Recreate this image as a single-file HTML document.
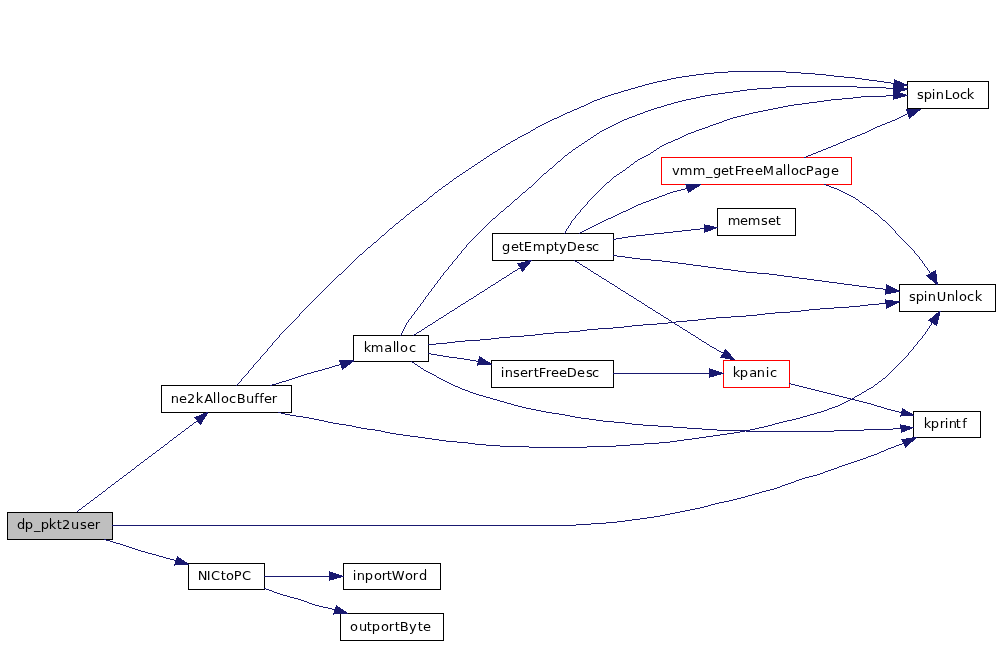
<!DOCTYPE html>
<html><head><meta charset="utf-8"><title>dp_pkt2user call graph</title>
<style>
html,body{margin:0;padding:0;background:#fff}
svg{display:block}
text{font-family:"DejaVu Sans","Liberation Sans",sans-serif;font-size:13px;fill:#000;text-anchor:start}
.e{fill:#191970;stroke:none}
</style></head><body>
<svg width="1000" height="645" viewBox="0 0 1000 645">
<rect width="1000" height="645" fill="#fff"/>
<g shape-rendering="crispEdges">
<rect x="7.5" y="512.5" width="105" height="27" fill="#bfbfbf" stroke="#000"/>
<rect x="161.5" y="385.5" width="130" height="27" fill="#fff" stroke="#000"/>
<rect x="188.5" y="563.5" width="76" height="26" fill="#fff" stroke="#000"/>
<rect x="343.5" y="563.5" width="97" height="26" fill="#fff" stroke="#000"/>
<rect x="340.5" y="613.5" width="103" height="27" fill="#fff" stroke="#000"/>
<rect x="353.5" y="335.5" width="75" height="26" fill="#fff" stroke="#000"/>
<rect x="492.5" y="233.5" width="121" height="27" fill="#fff" stroke="#000"/>
<rect x="491.5" y="360.5" width="122" height="27" fill="#fff" stroke="#000"/>
<rect x="661.5" y="157.5" width="190" height="27" fill="#fff" stroke="#f00"/>
<rect x="717.5" y="208.5" width="78" height="27" fill="#fff" stroke="#000"/>
<rect x="723.5" y="360.5" width="66" height="27" fill="#fff" stroke="#f00"/>
<rect x="907.5" y="81.5" width="81" height="27" fill="#fff" stroke="#000"/>
<rect x="899.5" y="284.5" width="96" height="27" fill="#fff" stroke="#000"/>
<rect x="913.5" y="411.5" width="67" height="26" fill="#fff" stroke="#000"/>
</g>
<g shape-rendering="crispEdges">
<path class="e" d="M728 71h58v1h-58zM714 72h14v1h-14zM786 72h15v1h-15zM704 73h10v1h-10zM801 73h14v1h-14zM696 74h8v1h-8zM815 74h11v1h-11zM689 75h7v1h-7zM826 75h8v1h-8zM682 76h7v1h-7zM834 76h10v1h-10zM676 77h6v1h-6zM844 77h11v1h-11zM671 78h5v1h-5zM855 78h7v1h-7zM667 79h4v1h-4zM862 79h7v1h-7zM894 79h1v1h-1zM662 80h5v1h-5zM869 80h8v1h-8zM894 80h3v1h-3zM657 81h5v1h-5zM877 81h7v1h-7zM894 81h6v1h-6zM653 82h4v1h-4zM884 82h7v1h-7zM894 82h8v1h-8zM649 83h4v1h-4zM891 83h13v1h-13zM645 84h4v1h-4zM893 84h14v1h-14zM642 85h3v1h-3zM893 85h15v1h-15zM638 86h4v1h-4zM786 86h71v1h-71zM893 86h11v2h-11zM635 87h3v1h-3zM772 87h14v1h-14zM857 87h29v1h-29zM631 88h4v1h-4zM757 88h15v1h-15zM886 88h21v1h-21zM628 89h3v1h-3zM747 89h10v1h-10zM893 89h15v1h-15zM624 90h4v1h-4zM740 90h7v1h-7zM893 90h12v1h-12zM621 91h3v1h-3zM733 91h7v1h-7zM893 91h8v1h-8zM618 92h3v1h-3zM725 92h8v1h-8zM893 92h7v1h-7zM614 93h4v1h-4zM718 93h7v1h-7zM893 93h10v1h-10zM611 94h3v1h-3zM711 94h7v1h-7zM893 94h13v1h-13zM608 95h3v1h-3zM705 95h6v1h-6zM886 95h22v1h-22zM605 96h3v1h-3zM700 96h5v1h-5zM861 96h25v1h-25zM893 96h12v1h-12zM602 97h3v1h-3zM696 97h4v1h-4zM853 97h8v1h-8zM893 97h8v1h-8zM600 98h2v1h-2zM691 98h5v1h-5zM842 98h11v1h-11zM893 98h5v1h-5zM597 99h3v1h-3zM686 99h5v1h-5zM831 99h11v1h-11zM893 99h1v1h-1zM594 100h3v1h-3zM682 100h4v1h-4zM824 100h7v1h-7zM592 101h2v1h-2zM678 101h4v1h-4zM817 101h7v1h-7zM590 102h2v1h-2zM674 102h4v1h-4zM809 102h8v1h-8zM588 103h2v1h-2zM671 103h3v1h-3zM802 103h7v1h-7zM586 104h2v1h-2zM667 104h4v1h-4zM794 104h8v1h-8zM584 105h2v1h-2zM664 105h3v1h-3zM788 105h6v1h-6zM581 106h3v1h-3zM661 106h3v1h-3zM783 106h5v1h-5zM579 107h2v1h-2zM657 107h4v1h-4zM778 107h5v1h-5zM577 108h2v1h-2zM654 108h3v1h-3zM773 108h5v1h-5zM574 109h3v1h-3zM651 109h3v1h-3zM768 109h5v1h-5zM906 109h15v1h-15zM572 110h2v1h-2zM648 110h3v1h-3zM763 110h5v1h-5zM906 110h14v1h-14zM570 111h2v1h-2zM645 111h3v1h-3zM758 111h5v1h-5zM907 111h11v1h-11zM567 112h3v1h-3zM643 112h2v1h-2zM753 112h5v1h-5zM907 112h10v1h-10zM565 113h2v1h-2zM640 113h3v1h-3zM749 113h4v1h-4zM907 113h9v1h-9zM563 114h2v1h-2zM637 114h3v1h-3zM745 114h4v1h-4zM905 114h2v1h-2zM908 114h7v1h-7zM561 115h2v1h-2zM635 115h2v1h-2zM741 115h4v1h-4zM903 115h2v1h-2zM908 115h6v1h-6zM559 116h2v1h-2zM632 116h3v1h-3zM737 116h4v1h-4zM901 116h2v1h-2zM908 116h4v1h-4zM557 117h2v1h-2zM629 117h3v1h-3zM733 117h4v1h-4zM899 117h2v1h-2zM909 117h2v1h-2zM554 118h3v1h-3zM627 118h2v1h-2zM730 118h3v1h-3zM897 118h2v1h-2zM909 118h1v1h-1zM552 119h2v1h-2zM624 119h3v1h-3zM727 119h3v1h-3zM895 119h2v1h-2zM550 120h2v1h-2zM622 120h2v1h-2zM724 120h3v1h-3zM892 120h3v1h-3zM548 121h2v1h-2zM620 121h2v1h-2zM722 121h2v1h-2zM890 121h2v1h-2zM546 122h2v1h-2zM618 122h2v1h-2zM719 122h3v1h-3zM887 122h3v1h-3zM544 123h2v1h-2zM616 123h2v1h-2zM716 123h3v1h-3zM885 123h2v1h-2zM542 124h2v1h-2zM614 124h2v1h-2zM713 124h3v1h-3zM882 124h3v1h-3zM540 125h2v1h-2zM612 125h2v1h-2zM710 125h3v1h-3zM880 125h2v1h-2zM538 126h2v1h-2zM610 126h2v1h-2zM708 126h2v1h-2zM877 126h3v1h-3zM536 127h2v1h-2zM608 127h2v1h-2zM705 127h3v1h-3zM875 127h2v1h-2zM535 128h1v1h-1zM606 128h2v1h-2zM702 128h3v1h-3zM873 128h2v1h-2zM533 129h2v1h-2zM604 129h2v1h-2zM699 129h3v1h-3zM871 129h2v1h-2zM531 130h2v1h-2zM602 130h2v1h-2zM696 130h3v1h-3zM869 130h2v1h-2zM530 131h1v1h-1zM600 131h2v1h-2zM694 131h2v1h-2zM867 131h2v1h-2zM528 132h2v1h-2zM599 132h1v1h-1zM691 132h3v1h-3zM865 132h2v1h-2zM526 133h2v1h-2zM597 133h2v1h-2zM688 133h3v1h-3zM862 133h3v1h-3zM524 134h2v1h-2zM596 134h1v1h-1zM686 134h2v1h-2zM860 134h2v1h-2zM522 135h2v1h-2zM594 135h2v1h-2zM684 135h2v1h-2zM857 135h3v1h-3zM520 136h2v1h-2zM593 136h1v1h-1zM682 136h2v1h-2zM855 136h2v1h-2zM518 137h2v1h-2zM591 137h2v1h-2zM680 137h2v1h-2zM852 137h3v1h-3zM517 138h1v1h-1zM590 138h1v1h-1zM678 138h2v1h-2zM850 138h2v1h-2zM515 139h2v1h-2zM588 139h2v1h-2zM675 139h3v1h-3zM847 139h3v1h-3zM513 140h2v1h-2zM587 140h1v1h-1zM673 140h2v1h-2zM845 140h2v1h-2zM511 141h2v1h-2zM585 141h2v1h-2zM671 141h2v1h-2zM843 141h2v1h-2zM510 142h1v1h-1zM584 142h1v1h-1zM668 142h3v1h-3zM840 142h3v1h-3zM508 143h2v1h-2zM582 143h2v1h-2zM666 143h2v1h-2zM838 143h2v1h-2zM506 144h2v1h-2zM581 144h1v1h-1zM664 144h2v1h-2zM836 144h2v1h-2zM505 145h1v1h-1zM579 145h2v1h-2zM662 145h2v1h-2zM833 145h3v1h-3zM503 146h2v1h-2zM578 146h1v1h-1zM660 146h2v1h-2zM831 146h2v1h-2zM501 147h2v1h-2zM576 147h2v1h-2zM659 147h1v1h-1zM828 147h3v1h-3zM500 148h1v1h-1zM575 148h1v1h-1zM657 148h2v1h-2zM826 148h2v1h-2zM498 149h2v1h-2zM573 149h2v1h-2zM656 149h1v1h-1zM823 149h3v1h-3zM497 150h1v1h-1zM572 150h1v1h-1zM654 150h2v1h-2zM821 150h2v1h-2zM495 151h2v1h-2zM571 151h1v1h-1zM653 151h1v1h-1zM818 151h3v1h-3zM493 152h2v1h-2zM569 152h2v1h-2zM651 152h2v1h-2zM816 152h2v1h-2zM492 153h1v1h-1zM568 153h1v1h-1zM650 153h1v1h-1zM813 153h3v1h-3zM490 154h2v1h-2zM567 154h1v1h-1zM648 154h2v1h-2zM811 154h2v1h-2zM489 155h1v1h-1zM565 155h2v1h-2zM646 155h2v1h-2zM808 155h3v1h-3zM487 156h2v1h-2zM564 156h1v1h-1zM644 156h2v1h-2zM806 156h2v1h-2zM486 157h1v1h-1zM563 157h1v1h-1zM642 157h2v1h-2zM804 157h2v1h-2zM484 158h2v1h-2zM562 158h1v1h-1zM640 158h2v1h-2zM483 159h1v1h-1zM561 159h1v1h-1zM638 159h2v1h-2zM481 160h2v1h-2zM560 160h1v1h-1zM637 160h1v1h-1zM480 161h1v1h-1zM558 161h2v1h-2zM635 161h2v1h-2zM478 162h2v1h-2zM557 162h1v1h-1zM634 162h1v1h-1zM477 163h1v1h-1zM556 163h1v1h-1zM633 163h1v1h-1zM475 164h2v1h-2zM555 164h1v1h-1zM631 164h2v1h-2zM474 165h1v1h-1zM554 165h1v1h-1zM630 165h1v1h-1zM472 166h2v1h-2zM553 166h1v1h-1zM629 166h1v1h-1zM471 167h1v1h-1zM552 167h1v1h-1zM627 167h2v1h-2zM469 168h2v1h-2zM550 168h2v1h-2zM626 168h1v1h-1zM468 169h1v1h-1zM549 169h1v1h-1zM625 169h1v1h-1zM466 170h2v1h-2zM548 170h1v1h-1zM623 170h2v1h-2zM465 171h1v1h-1zM547 171h1v1h-1zM622 171h1v1h-1zM463 172h2v1h-2zM546 172h1v1h-1zM620 172h2v1h-2zM462 173h1v1h-1zM544 173h2v1h-2zM619 173h1v1h-1zM460 174h2v1h-2zM543 174h1v1h-1zM617 174h2v1h-2zM459 175h1v1h-1zM542 175h1v1h-1zM616 175h1v1h-1zM457 176h2v1h-2zM541 176h1v1h-1zM614 176h2v1h-2zM456 177h1v1h-1zM540 177h1v1h-1zM613 177h1v1h-1zM454 178h2v1h-2zM539 178h1v1h-1zM612 178h1v1h-1zM453 179h1v1h-1zM538 179h1v1h-1zM611 179h1v1h-1zM452 180h1v1h-1zM537 180h1v1h-1zM610 180h1v1h-1zM450 181h2v1h-2zM536 181h1v1h-1zM609 181h1v1h-1zM449 182h1v1h-1zM535 182h1v1h-1zM607 182h2v1h-2zM448 183h1v1h-1zM534 183h1v1h-1zM606 183h1v1h-1zM446 184h2v1h-2zM533 184h1v1h-1zM605 184h1v1h-1zM685 184h16v1h-16zM824 184h2v1h-2zM445 185h1v1h-1zM532 185h1v1h-1zM604 185h1v1h-1zM686 185h14v1h-14zM826 185h3v1h-3zM443 186h2v1h-2zM531 186h1v1h-1zM603 186h1v1h-1zM686 186h13v1h-13zM829 186h2v1h-2z"/>
<path class="e" d="M442 187h1v1h-1zM529 187h2v1h-2zM602 187h1v1h-1zM686 187h11v1h-11zM831 187h3v1h-3zM441 188h1v1h-1zM528 188h1v1h-1zM601 188h1v1h-1zM685 188h10v1h-10zM834 188h3v1h-3zM439 189h2v1h-2zM527 189h1v1h-1zM600 189h1v1h-1zM681 189h4v1h-4zM687 189h7v1h-7zM837 189h2v1h-2zM438 190h1v1h-1zM526 190h1v1h-1zM599 190h1v1h-1zM677 190h4v1h-4zM687 190h5v1h-5zM839 190h2v1h-2zM437 191h1v1h-1zM525 191h1v1h-1zM598 191h1v1h-1zM673 191h4v1h-4zM688 191h3v1h-3zM841 191h2v1h-2zM435 192h2v1h-2zM523 192h2v1h-2zM597 192h1v1h-1zM670 192h3v1h-3zM688 192h1v1h-1zM843 192h2v1h-2zM434 193h1v1h-1zM522 193h1v1h-1zM596 193h1v1h-1zM667 193h3v1h-3zM845 193h2v1h-2zM433 194h1v1h-1zM521 194h1v1h-1zM595 194h1v1h-1zM665 194h2v1h-2zM847 194h2v1h-2zM432 195h1v1h-1zM520 195h1v1h-1zM594 195h1v1h-1zM662 195h3v1h-3zM849 195h2v1h-2zM430 196h2v1h-2zM519 196h1v1h-1zM593 196h1v1h-1zM659 196h3v1h-3zM851 196h2v1h-2zM429 197h1v1h-1zM518 197h1v1h-1zM592 197h1v1h-1zM657 197h2v1h-2zM853 197h2v1h-2zM428 198h1v1h-1zM517 198h1v1h-1zM591 198h1v1h-1zM654 198h3v1h-3zM855 198h1v1h-1zM427 199h1v1h-1zM515 199h2v1h-2zM590 199h1v1h-1zM651 199h3v1h-3zM856 199h2v1h-2zM426 200h1v1h-1zM514 200h1v1h-1zM589 200h1v1h-1zM649 200h2v1h-2zM858 200h1v1h-1zM424 201h2v1h-2zM513 201h1v1h-1zM588 201h1v1h-1zM646 201h3v1h-3zM859 201h1v1h-1zM423 202h1v1h-1zM512 202h1v1h-1zM587 202h1v2h-1zM643 202h3v1h-3zM860 202h2v1h-2zM422 203h1v1h-1zM511 203h1v1h-1zM641 203h2v1h-2zM862 203h1v1h-1zM420 204h2v1h-2zM510 204h1v1h-1zM586 204h1v1h-1zM638 204h3v1h-3zM863 204h2v1h-2zM419 205h1v1h-1zM509 205h1v1h-1zM585 205h1v1h-1zM636 205h2v1h-2zM865 205h1v1h-1zM418 206h1v1h-1zM507 206h2v1h-2zM584 206h1v1h-1zM634 206h2v1h-2zM866 206h1v1h-1zM416 207h2v1h-2zM506 207h1v1h-1zM583 207h1v1h-1zM632 207h2v1h-2zM867 207h2v1h-2zM415 208h1v1h-1zM505 208h1v1h-1zM582 208h1v1h-1zM630 208h2v1h-2zM869 208h1v1h-1zM414 209h1v1h-1zM504 209h1v1h-1zM581 209h1v1h-1zM628 209h2v1h-2zM870 209h1v1h-1zM412 210h2v1h-2zM503 210h1v1h-1zM580 210h1v2h-1zM626 210h2v1h-2zM871 210h2v1h-2zM411 211h1v1h-1zM501 211h2v1h-2zM623 211h3v1h-3zM873 211h1v1h-1zM410 212h1v1h-1zM500 212h1v1h-1zM579 212h1v1h-1zM621 212h2v1h-2zM874 212h1v1h-1zM409 213h1v1h-1zM499 213h1v1h-1zM578 213h1v1h-1zM619 213h2v1h-2zM875 213h2v1h-2zM407 214h2v1h-2zM498 214h1v1h-1zM577 214h1v1h-1zM617 214h2v1h-2zM877 214h1v1h-1zM406 215h1v1h-1zM497 215h1v1h-1zM576 215h1v1h-1zM615 215h2v1h-2zM878 215h1v1h-1zM405 216h1v1h-1zM496 216h1v1h-1zM575 216h1v2h-1zM613 216h2v1h-2zM879 216h1v1h-1zM404 217h1v1h-1zM495 217h1v1h-1zM611 217h2v1h-2zM880 217h1v1h-1zM403 218h1v1h-1zM493 218h2v1h-2zM574 218h1v1h-1zM608 218h3v1h-3zM881 218h1v1h-1zM401 219h2v1h-2zM492 219h1v1h-1zM573 219h1v1h-1zM606 219h2v1h-2zM882 219h1v1h-1zM400 220h1v1h-1zM491 220h1v1h-1zM572 220h1v1h-1zM604 220h2v1h-2zM883 220h2v1h-2zM399 221h1v1h-1zM490 221h1v1h-1zM571 221h1v2h-1zM602 221h2v1h-2zM885 221h1v1h-1zM398 222h1v1h-1zM489 222h1v1h-1zM600 222h2v1h-2zM886 222h1v1h-1zM396 223h2v1h-2zM488 223h1v1h-1zM570 223h1v2h-1zM598 223h2v1h-2zM887 223h1v1h-1zM395 224h1v1h-1zM487 224h1v1h-1zM596 224h2v1h-2zM704 224h1v1h-1zM888 224h1v1h-1zM394 225h1v1h-1zM486 225h1v1h-1zM569 225h1v1h-1zM594 225h2v1h-2zM704 225h6v1h-6zM889 225h1v1h-1zM393 226h1v1h-1zM485 226h1v1h-1zM568 226h1v2h-1zM592 226h2v1h-2zM704 226h10v1h-10zM890 226h1v1h-1zM392 227h1v1h-1zM484 227h1v1h-1zM590 227h2v1h-2zM704 227h14v1h-14zM891 227h1v1h-1zM390 228h2v1h-2zM483 228h1v1h-1zM567 228h1v1h-1zM588 228h2v1h-2zM700 228h16v1h-16zM892 228h1v1h-1zM389 229h1v1h-1zM482 229h1v1h-1zM566 229h1v2h-1zM586 229h2v1h-2zM691 229h9v1h-9zM704 229h9v1h-9zM893 229h1v1h-1zM388 230h1v1h-1zM481 230h1v1h-1zM584 230h2v1h-2zM682 230h9v1h-9zM704 230h7v1h-7zM894 230h1v1h-1zM387 231h1v1h-1zM480 231h1v1h-1zM565 231h1v2h-1zM582 231h2v1h-2zM673 231h9v1h-9zM704 231h4v1h-4zM895 231h1v2h-1zM386 232h1v1h-1zM479 232h1v1h-1zM580 232h2v1h-2zM664 232h9v1h-9zM704 232h1v1h-1zM385 233h1v1h-1zM478 233h1v1h-1zM564 233h1v1h-1zM579 233h1v1h-1zM654 233h10v1h-10zM896 233h1v1h-1zM384 234h1v1h-1zM477 234h1v1h-1zM645 234h9v1h-9zM897 234h1v1h-1zM382 235h2v1h-2zM476 235h1v1h-1zM636 235h9v1h-9zM898 235h1v1h-1zM381 236h1v1h-1zM475 236h1v1h-1zM628 236h8v1h-8zM899 236h1v1h-1zM380 237h1v1h-1zM474 237h1v1h-1zM622 237h6v1h-6zM900 237h1v1h-1zM379 238h1v1h-1zM473 238h1v1h-1zM616 238h6v1h-6zM901 238h1v1h-1zM378 239h1v1h-1zM472 239h1v1h-1zM613 239h3v1h-3zM902 239h1v1h-1zM377 240h1v1h-1zM471 240h1v1h-1zM903 240h1v1h-1zM376 241h1v1h-1zM470 241h1v1h-1zM904 241h1v1h-1zM374 242h2v1h-2zM469 242h1v1h-1zM905 242h1v1h-1zM373 243h1v1h-1zM468 243h1v1h-1zM906 243h1v1h-1zM372 244h1v1h-1zM467 244h1v1h-1zM907 244h1v1h-1zM371 245h1v1h-1zM466 245h1v2h-1zM908 245h1v1h-1zM370 246h1v1h-1zM909 246h1v1h-1zM368 247h2v1h-2zM465 247h1v1h-1zM910 247h1v1h-1zM367 248h1v1h-1zM464 248h1v1h-1zM911 248h1v1h-1zM366 249h1v1h-1zM463 249h1v1h-1zM912 249h1v1h-1zM365 250h1v1h-1zM462 250h1v1h-1zM913 250h1v1h-1zM364 251h1v1h-1zM461 251h1v2h-1zM914 251h1v2h-1zM363 252h1v1h-1zM362 253h1v1h-1zM460 253h1v1h-1zM915 253h1v1h-1zM360 254h2v1h-2zM459 254h1v1h-1zM916 254h1v1h-1zM359 255h1v1h-1zM458 255h1v1h-1zM613 255h4v1h-4zM917 255h1v1h-1zM358 256h1v1h-1zM457 256h1v2h-1zM617 256h8v1h-8zM918 256h1v1h-1zM357 257h1v1h-1zM625 257h7v1h-7zM919 257h1v2h-1zM356 258h1v1h-1zM456 258h1v1h-1zM632 258h8v1h-8zM355 259h1v1h-1zM455 259h1v1h-1zM640 259h11v1h-11zM920 259h1v1h-1zM354 260h1v1h-1zM454 260h1v1h-1zM528 260h4v1h-4zM574 260h1v1h-1zM651 260h11v1h-11zM921 260h1v1h-1zM353 261h1v1h-1zM453 261h1v1h-1zM525 261h6v1h-6zM575 261h2v1h-2zM662 261h8v1h-8zM922 261h1v2h-1zM352 262h1v1h-1zM452 262h1v2h-1zM521 262h9v1h-9zM577 262h2v1h-2zM670 262h8v1h-8zM351 263h1v1h-1zM517 263h13v1h-13zM579 263h1v1h-1zM678 263h8v1h-8zM923 263h1v1h-1zM350 264h1v1h-1zM451 264h1v1h-1zM518 264h11v1h-11zM580 264h2v1h-2zM686 264h7v1h-7zM924 264h1v2h-1zM349 265h1v1h-1zM450 265h1v1h-1zM518 265h10v1h-10zM582 265h1v1h-1zM693 265h8v1h-8zM348 266h1v1h-1zM449 266h1v1h-1zM519 266h8v1h-8zM583 266h2v1h-2zM701 266h7v1h-7zM925 266h1v1h-1zM347 267h1v1h-1zM448 267h1v2h-1zM520 267h6v1h-6zM585 267h2v1h-2zM708 267h8v1h-8zM926 267h1v1h-1zM346 268h1v1h-1zM518 268h7v1h-7zM587 268h1v1h-1zM716 268h7v1h-7zM927 268h1v2h-1zM345 269h1v1h-1zM447 269h1v1h-1zM517 269h1v1h-1zM521 269h4v1h-4zM588 269h2v1h-2zM723 269h8v1h-8zM344 270h1v1h-1zM446 270h1v1h-1zM515 270h2v1h-2zM521 270h3v1h-3zM590 270h1v1h-1zM731 270h7v1h-7zM928 270h1v1h-1zM935 270h1v1h-1zM343 271h1v1h-1zM445 271h1v1h-1zM513 271h2v1h-2zM522 271h1v1h-1zM591 271h2v1h-2zM738 271h8v1h-8zM929 271h1v2h-1zM933 271h3v1h-3z"/>
<path class="e" d="M342 272h1v1h-1zM444 272h1v1h-1zM512 272h1v1h-1zM593 272h1v1h-1zM746 272h11v1h-11zM931 272h5v1h-5zM341 273h1v1h-1zM443 273h1v2h-1zM510 273h2v1h-2zM594 273h2v1h-2zM757 273h12v1h-12zM930 273h6v1h-6zM339 274h2v1h-2zM509 274h1v1h-1zM596 274h2v1h-2zM769 274h8v1h-8zM928 274h9v1h-9zM338 275h1v1h-1zM442 275h1v1h-1zM507 275h2v1h-2zM598 275h1v1h-1zM777 275h7v1h-7zM926 275h11v1h-11zM337 276h1v1h-1zM441 276h1v1h-1zM506 276h1v1h-1zM599 276h2v1h-2zM784 276h8v1h-8zM927 276h10v1h-10zM336 277h1v1h-1zM440 277h1v2h-1zM504 277h2v1h-2zM601 277h1v1h-1zM792 277h7v1h-7zM928 277h9v1h-9zM335 278h1v1h-1zM502 278h2v1h-2zM602 278h2v1h-2zM799 278h8v1h-8zM929 278h8v1h-8zM334 279h1v1h-1zM439 279h1v1h-1zM501 279h1v1h-1zM604 279h2v1h-2zM807 279h7v1h-7zM930 279h7v1h-7zM333 280h1v1h-1zM438 280h1v1h-1zM499 280h2v1h-2zM606 280h1v1h-1zM814 280h8v1h-8zM932 280h5v1h-5zM332 281h1v1h-1zM437 281h1v2h-1zM498 281h1v1h-1zM607 281h2v1h-2zM822 281h7v1h-7zM933 281h4v1h-4zM331 282h1v1h-1zM496 282h2v1h-2zM609 282h1v1h-1zM829 282h8v1h-8zM934 282h4v1h-4zM330 283h1v1h-1zM436 283h1v1h-1zM495 283h1v1h-1zM610 283h2v1h-2zM837 283h7v1h-7zM935 283h3v1h-3zM329 284h1v1h-1zM435 284h1v1h-1zM493 284h2v1h-2zM612 284h2v1h-2zM844 284h8v1h-8zM886 284h1v1h-1zM936 284h2v1h-2zM328 285h1v1h-1zM434 285h1v2h-1zM491 285h2v1h-2zM614 285h1v1h-1zM852 285h7v1h-7zM886 285h3v1h-3zM327 286h1v1h-1zM490 286h1v1h-1zM615 286h2v1h-2zM859 286h8v1h-8zM886 286h5v1h-5zM326 287h1v1h-1zM433 287h1v1h-1zM488 287h2v1h-2zM617 287h1v1h-1zM867 287h8v1h-8zM886 287h7v1h-7zM325 288h1v1h-1zM432 288h1v1h-1zM487 288h1v1h-1zM618 288h2v1h-2zM875 288h8v1h-8zM886 288h9v1h-9zM324 289h1v1h-1zM431 289h1v2h-1zM485 289h2v1h-2zM620 289h1v1h-1zM883 289h14v1h-14zM323 290h1v1h-1zM484 290h1v1h-1zM621 290h2v1h-2zM885 290h14v1h-14zM322 291h1v1h-1zM430 291h1v1h-1zM482 291h2v1h-2zM623 291h2v1h-2zM885 291h15v1h-15zM321 292h1v1h-1zM429 292h1v1h-1zM480 292h2v1h-2zM625 292h1v1h-1zM885 292h11v1h-11zM320 293h1v1h-1zM428 293h1v2h-1zM479 293h1v1h-1zM626 293h2v1h-2zM885 293h6v1h-6zM319 294h1v1h-1zM477 294h2v1h-2zM628 294h1v1h-1zM885 294h1v1h-1zM318 295h1v1h-1zM427 295h1v1h-1zM476 295h1v1h-1zM629 295h2v1h-2zM317 296h1v1h-1zM426 296h1v1h-1zM474 296h2v1h-2zM631 296h2v1h-2zM316 297h1v1h-1zM425 297h1v2h-1zM473 297h1v1h-1zM633 297h1v1h-1zM315 298h1v1h-1zM471 298h2v1h-2zM634 298h2v1h-2zM314 299h1v1h-1zM424 299h1v1h-1zM469 299h2v1h-2zM636 299h1v1h-1zM885 299h1v1h-1zM313 300h1v1h-1zM423 300h1v2h-1zM468 300h1v1h-1zM637 300h2v1h-2zM885 300h8v1h-8zM312 301h1v1h-1zM466 301h2v1h-2zM639 301h2v1h-2zM885 301h15v1h-15zM311 302h1v1h-1zM422 302h1v1h-1zM465 302h1v1h-1zM641 302h1v1h-1zM885 302h14v1h-14zM310 303h1v1h-1zM421 303h1v1h-1zM463 303h2v1h-2zM642 303h2v1h-2zM879 303h18v1h-18zM309 304h1v1h-1zM420 304h1v2h-1zM461 304h2v1h-2zM644 304h1v1h-1zM868 304h11v1h-11zM886 304h9v1h-9zM308 305h1v1h-1zM460 305h1v1h-1zM645 305h2v1h-2zM860 305h8v1h-8zM886 305h7v1h-7zM307 306h1v1h-1zM419 306h1v1h-1zM458 306h2v1h-2zM647 306h1v1h-1zM849 306h11v1h-11zM886 306h5v1h-5zM306 307h1v1h-1zM418 307h1v1h-1zM457 307h1v1h-1zM648 307h2v1h-2zM834 307h15v1h-15zM886 307h3v1h-3zM305 308h1v1h-1zM417 308h1v2h-1zM455 308h2v1h-2zM650 308h2v1h-2zM820 308h14v1h-14zM886 308h1v1h-1zM304 309h1v1h-1zM454 309h1v1h-1zM652 309h1v1h-1zM809 309h11v1h-11zM303 310h1v1h-1zM416 310h1v1h-1zM452 310h2v1h-2zM653 310h2v1h-2zM801 310h8v1h-8zM302 311h1v1h-1zM415 311h1v1h-1zM450 311h2v1h-2zM655 311h1v1h-1zM790 311h11v1h-11zM939 311h2v1h-2zM301 312h1v1h-1zM414 312h1v2h-1zM449 312h1v1h-1zM656 312h2v1h-2zM775 312h15v1h-15zM938 312h2v1h-2zM300 313h1v1h-1zM447 313h2v1h-2zM658 313h2v1h-2zM765 313h10v1h-10zM936 313h4v1h-4zM299 314h1v2h-1zM413 314h1v1h-1zM446 314h1v1h-1zM660 314h1v1h-1zM757 314h8v1h-8zM935 314h5v1h-5zM412 315h1v1h-1zM444 315h2v1h-2zM661 315h2v1h-2zM746 315h11v1h-11zM934 315h6v1h-6zM298 316h1v1h-1zM411 316h1v2h-1zM443 316h1v1h-1zM663 316h1v1h-1zM731 316h15v1h-15zM933 316h6v1h-6zM297 317h1v1h-1zM441 317h2v1h-2zM664 317h2v1h-2zM716 317h15v1h-15zM932 317h7v1h-7zM296 318h1v1h-1zM410 318h1v1h-1zM439 318h2v1h-2zM666 318h2v1h-2zM706 318h10v1h-10zM930 318h9v1h-9zM295 319h1v1h-1zM409 319h1v1h-1zM438 319h1v1h-1zM668 319h1v1h-1zM698 319h8v1h-8zM929 319h10v1h-10zM294 320h1v1h-1zM408 320h1v2h-1zM436 320h2v1h-2zM669 320h2v1h-2zM687 320h11v1h-11zM928 320h10v1h-10zM293 321h1v1h-1zM435 321h1v1h-1zM671 321h1v1h-1zM676 321h11v1h-11zM930 321h8v1h-8zM292 322h1v1h-1zM407 322h1v1h-1zM433 322h2v1h-2zM668 322h8v1h-8zM931 322h7v1h-7zM291 323h1v1h-1zM406 323h1v2h-1zM432 323h1v1h-1zM657 323h11v1h-11zM674 323h1v1h-1zM931 323h1v2h-1zM933 323h5v1h-5zM290 324h1v1h-1zM430 324h2v1h-2zM643 324h14v1h-14zM675 324h2v1h-2zM934 324h3v1h-3zM289 325h1v1h-1zM405 325h1v2h-1zM428 325h2v1h-2zM632 325h11v1h-11zM677 325h2v1h-2zM930 325h1v1h-1zM936 325h1v1h-1zM288 326h1v1h-1zM427 326h1v1h-1zM624 326h8v1h-8zM679 326h1v1h-1zM929 326h1v2h-1zM287 327h1v1h-1zM404 327h1v2h-1zM425 327h2v1h-2zM613 327h11v1h-11zM680 327h2v1h-2zM286 328h1v1h-1zM424 328h1v1h-1zM598 328h15v1h-15zM682 328h1v1h-1zM928 328h1v1h-1zM285 329h1v1h-1zM403 329h1v2h-1zM422 329h2v1h-2zM587 329h11v1h-11zM683 329h2v1h-2zM927 329h1v2h-1zM284 330h1v1h-1zM421 330h1v1h-1zM580 330h7v1h-7zM685 330h2v1h-2zM283 331h1v1h-1zM402 331h1v2h-1zM419 331h2v1h-2zM569 331h11v1h-11zM687 331h1v1h-1zM926 331h1v1h-1zM282 332h1v1h-1zM417 332h2v1h-2zM554 332h15v1h-15zM688 332h2v1h-2zM925 332h1v2h-1zM281 333h1v1h-1zM401 333h1v2h-1zM416 333h1v1h-1zM543 333h11v1h-11zM690 333h1v1h-1zM280 334h1v1h-1zM414 334h2v1h-2zM535 334h8v1h-8zM691 334h2v1h-2zM924 334h1v1h-1zM279 335h1v2h-1zM400 335h1v1h-1zM413 335h1v1h-1zM524 335h11v1h-11zM693 335h2v1h-2zM923 335h1v1h-1zM510 336h14v1h-14zM695 336h1v1h-1zM922 336h1v2h-1zM278 337h1v1h-1zM499 337h11v1h-11zM696 337h2v1h-2zM277 338h1v1h-1zM491 338h8v1h-8zM698 338h1v1h-1zM921 338h1v1h-1zM276 339h1v1h-1zM480 339h11v1h-11zM699 339h2v1h-2zM920 339h1v1h-1zM275 340h1v1h-1zM465 340h15v1h-15zM701 340h1v1h-1zM919 340h1v1h-1zM274 341h1v1h-1zM455 341h10v1h-10zM702 341h2v1h-2zM918 341h1v1h-1zM273 342h1v1h-1zM447 342h8v1h-8zM704 342h2v1h-2zM917 342h1v2h-1zM272 343h1v2h-1zM436 343h11v1h-11zM706 343h1v1h-1zM428 344h8v1h-8zM707 344h2v1h-2zM916 344h1v1h-1zM271 345h1v1h-1zM709 345h1v1h-1zM915 345h1v1h-1zM270 346h1v1h-1zM710 346h2v1h-2zM914 346h1v1h-1zM269 347h1v1h-1zM712 347h2v1h-2zM913 347h1v2h-1zM268 348h1v1h-1zM714 348h2v1h-2zM267 349h1v2h-1zM716 349h1v1h-1zM725 349h1v1h-1zM912 349h1v1h-1zM717 350h2v1h-2zM724 350h3v1h-3zM911 350h1v1h-1zM266 351h1v1h-1zM719 351h2v1h-2zM724 351h4v1h-4zM910 351h1v1h-1zM265 352h1v1h-1zM721 352h8v1h-8zM909 352h1v1h-1zM264 353h1v1h-1z"/>
<path class="e" d="M428 353h3v1h-3zM723 353h7v1h-7zM908 353h1v2h-1zM263 354h1v1h-1zM431 354h6v1h-6zM722 354h9v1h-9zM262 355h1v1h-1zM437 355h6v1h-6zM721 355h10v1h-10zM907 355h1v1h-1zM261 356h1v1h-1zM443 356h6v1h-6zM479 356h1v1h-1zM721 356h11v1h-11zM906 356h1v1h-1zM260 357h1v2h-1zM449 357h8v1h-8zM479 357h3v1h-3zM720 357h13v1h-13zM905 357h1v1h-1zM457 358h7v1h-7zM479 358h4v1h-4zM725 358h9v1h-9zM904 358h1v1h-1zM259 359h1v1h-1zM464 359h6v1h-6zM478 359h7v1h-7zM730 359h5v1h-5zM903 359h1v1h-1zM258 360h1v1h-1zM339 360h15v2h-15zM470 360h6v1h-6zM478 360h8v1h-8zM902 360h1v1h-1zM257 361h1v1h-1zM411 361h1v1h-1zM476 361h12v1h-12zM901 361h1v1h-1zM256 362h1v1h-1zM340 362h12v1h-12zM412 362h2v1h-2zM478 362h12v1h-12zM900 362h1v1h-1zM255 363h1v1h-1zM340 363h11v1h-11zM414 363h1v1h-1zM477 363h14v1h-14zM899 363h1v1h-1zM254 364h1v1h-1zM339 364h11v1h-11zM415 364h2v1h-2zM477 364h15v1h-15zM898 364h1v1h-1zM253 365h1v2h-1zM335 365h4v1h-4zM341 365h7v1h-7zM417 365h1v1h-1zM477 365h1v1h-1zM897 365h1v1h-1zM332 366h3v1h-3zM341 366h6v1h-6zM418 366h2v1h-2zM896 366h1v1h-1zM252 367h1v1h-1zM329 367h3v1h-3zM341 367h5v1h-5zM420 367h1v1h-1zM895 367h1v1h-1zM251 368h1v1h-1zM325 368h4v1h-4zM342 368h2v1h-2zM421 368h2v1h-2zM709 368h1v1h-1zM894 368h1v1h-1zM250 369h1v1h-1zM322 369h3v1h-3zM342 369h1v1h-1zM423 369h1v1h-1zM709 369h4v1h-4zM893 369h1v1h-1zM249 370h1v1h-1zM318 370h4v1h-4zM424 370h2v1h-2zM709 370h7v1h-7zM892 370h1v1h-1zM248 371h1v2h-1zM314 371h4v1h-4zM426 371h2v1h-2zM709 371h10v1h-10zM891 371h1v1h-1zM311 372h3v1h-3zM428 372h2v1h-2zM709 372h13v1h-13zM890 372h1v1h-1zM247 373h1v1h-1zM307 373h4v1h-4zM430 373h2v1h-2zM613 373h111v1h-111zM889 373h1v1h-1zM246 374h1v1h-1zM304 374h3v1h-3zM432 374h2v1h-2zM709 374h12v1h-12zM888 374h1v1h-1zM245 375h1v1h-1zM301 375h3v1h-3zM434 375h2v1h-2zM709 375h8v1h-8zM887 375h1v1h-1zM244 376h1v1h-1zM298 376h3v1h-3zM436 376h1v1h-1zM709 376h5v1h-5zM886 376h1v1h-1zM243 377h1v1h-1zM295 377h3v1h-3zM437 377h2v1h-2zM709 377h1v1h-1zM885 377h1v1h-1zM242 378h1v1h-1zM292 378h3v1h-3zM439 378h2v1h-2zM883 378h2v1h-2zM241 379h1v2h-1zM289 379h3v1h-3zM441 379h2v1h-2zM882 379h1v1h-1zM286 380h3v1h-3zM443 380h2v1h-2zM881 380h1v1h-1zM240 381h1v1h-1zM282 381h4v1h-4zM445 381h2v1h-2zM879 381h2v1h-2zM239 382h1v1h-1zM279 382h3v1h-3zM447 382h2v1h-2zM878 382h1v1h-1zM238 383h1v1h-1zM276 383h3v1h-3zM449 383h2v1h-2zM789 383h2v1h-2zM877 383h1v1h-1zM237 384h1v1h-1zM272 384h4v1h-4zM451 384h2v1h-2zM791 384h4v1h-4zM875 384h2v1h-2zM236 385h1v1h-1zM270 385h2v1h-2zM453 385h2v1h-2zM795 385h4v1h-4zM874 385h1v1h-1zM455 386h3v1h-3zM799 386h4v1h-4zM873 386h1v1h-1zM458 387h2v1h-2zM803 387h4v1h-4zM871 387h2v1h-2zM460 388h2v1h-2zM807 388h4v1h-4zM869 388h2v1h-2zM462 389h3v1h-3zM811 389h4v1h-4zM867 389h2v1h-2zM465 390h3v1h-3zM815 390h4v1h-4zM866 390h1v1h-1zM468 391h2v1h-2zM819 391h4v1h-4zM864 391h2v1h-2zM470 392h3v1h-3zM823 392h4v1h-4zM862 392h2v1h-2zM473 393h3v1h-3zM827 393h4v1h-4zM861 393h1v1h-1zM476 394h3v1h-3zM831 394h4v1h-4zM859 394h2v1h-2zM479 395h4v1h-4zM835 395h4v1h-4zM857 395h2v1h-2zM483 396h3v1h-3zM839 396h4v1h-4zM855 396h2v1h-2zM486 397h4v1h-4zM843 397h4v1h-4zM854 397h1v1h-1zM490 398h3v1h-3zM847 398h4v1h-4zM852 398h2v1h-2zM493 399h4v1h-4zM850 399h5v1h-5zM497 400h3v1h-3zM848 400h2v1h-2zM855 400h4v1h-4zM500 401h4v1h-4zM846 401h2v1h-2zM859 401h4v1h-4zM504 402h3v1h-3zM844 402h2v1h-2zM863 402h4v1h-4zM507 403h4v1h-4zM842 403h2v1h-2zM867 403h4v1h-4zM511 404h3v1h-3zM840 404h2v1h-2zM871 404h3v1h-3zM514 405h4v1h-4zM838 405h2v1h-2zM874 405h3v1h-3zM518 406h4v1h-4zM835 406h3v1h-3zM877 406h4v1h-4zM522 407h4v1h-4zM832 407h3v1h-3zM881 407h3v1h-3zM526 408h5v1h-5zM829 408h3v1h-3zM884 408h3v1h-3zM902 408h1v1h-1zM531 409h5v1h-5zM827 409h2v1h-2zM887 409h4v1h-4zM902 409h3v1h-3zM536 410h5v1h-5zM824 410h3v1h-3zM891 410h4v1h-4zM902 410h4v1h-4zM541 411h5v1h-5zM821 411h3v1h-3zM895 411h4v1h-4zM901 411h7v1h-7zM206 412h2v1h-2zM278 412h3v1h-3zM546 412h6v1h-6zM817 412h4v1h-4zM899 412h11v1h-11zM203 413h5v1h-5zM281 413h4v1h-4zM552 413h7v1h-7zM814 413h3v1h-3zM901 413h11v1h-11zM201 414h6v1h-6zM285 414h5v1h-5zM559 414h6v1h-6zM810 414h4v1h-4zM901 414h12v1h-12zM199 415h8v1h-8zM290 415h6v1h-6zM565 415h5v1h-5zM807 415h3v1h-3zM900 415h14v1h-14zM196 416h10v1h-10zM296 416h7v1h-7zM570 416h5v1h-5zM803 416h4v1h-4zM900 416h1v1h-1zM194 417h11v1h-11zM303 417h6v1h-6zM575 417h6v1h-6zM800 417h3v1h-3zM195 418h10v1h-10zM309 418h5v1h-5zM581 418h8v1h-8zM796 418h4v1h-4zM196 419h8v1h-8zM314 419h5v1h-5zM589 419h7v1h-7zM792 419h4v1h-4zM197 420h6v1h-6zM319 420h5v1h-5zM596 420h7v1h-7zM787 420h5v1h-5zM196 421h7v1h-7zM324 421h4v1h-4zM603 421h11v1h-11zM783 421h4v1h-4zM194 422h2v1h-2zM198 422h4v1h-4zM328 422h5v1h-5zM614 422h11v1h-11zM779 422h4v1h-4zM193 423h1v1h-1zM199 423h3v1h-3zM333 423h6v1h-6zM625 423h7v1h-7zM775 423h4v1h-4zM192 424h1v1h-1zM200 424h1v1h-1zM339 424h7v1h-7zM632 424h11v1h-11zM772 424h3v1h-3zM900 424h1v1h-1zM190 425h2v1h-2zM346 425h6v1h-6zM643 425h15v1h-15zM768 425h4v1h-4zM900 425h6v1h-6zM189 426h1v1h-1zM352 426h4v1h-4zM658 426h15v1h-15zM764 426h4v1h-4zM900 426h10v1h-10zM188 427h1v1h-1zM356 427h5v1h-5zM673 427h14v1h-14zM759 427h5v1h-5zM900 427h14v1h-14zM186 428h2v1h-2zM361 428h6v1h-6zM687 428h15v1h-15zM755 428h4v1h-4zM893 428h19v1h-19zM185 429h1v1h-1zM367 429h8v1h-8zM702 429h15v1h-15zM750 429h5v1h-5zM864 429h29v1h-29zM901 429h9v1h-9zM184 430h1v1h-1zM375 430h6v1h-6zM717 430h33v1h-33zM834 430h30v1h-30zM901 430h6v1h-6zM182 431h2v1h-2zM381 431h4v1h-4zM740 431h5v1h-5zM746 431h88v1h-88zM901 431h4v1h-4zM181 432h1v1h-1zM385 432h5v1h-5zM734 432h6v1h-6zM901 432h1v1h-1zM180 433h1v1h-1zM390 433h6v1h-6zM727 433h7v1h-7zM178 434h2v1h-2zM396 434h7v1h-7zM720 434h7v1h-7zM177 435h1v1h-1zM403 435h7v1h-7zM713 435h7v1h-7zM176 436h1v1h-1zM410 436h8v1h-8zM706 436h7v1h-7zM174 437h2v1h-2zM418 437h7v1h-7zM699 437h7v1h-7zM912 437h5v1h-5zM173 438h1v1h-1zM425 438h7v1h-7zM692 438h7v1h-7zM906 438h10v1h-10zM172 439h1v1h-1zM432 439h7v1h-7zM684 439h8v1h-8zM901 439h14v1h-14zM170 440h2v1h-2zM439 440h7v1h-7zM677 440h7v1h-7zM902 440h12v1h-12zM169 441h1v1h-1zM446 441h11v1h-11zM670 441h7v1h-7zM902 441h11v1h-11zM168 442h1v1h-1zM457 442h11v1h-11zM659 442h11v1h-11zM903 442h8v1h-8zM167 443h1v1h-1zM468 443h7v1h-7zM644 443h15v1h-15zM902 443h8v1h-8zM165 444h2v1h-2zM475 444h11v1h-11zM630 444h14v1h-14zM899 444h3v1h-3zM904 444h5v1h-5zM164 445h1v1h-1zM486 445h14v1h-14zM616 445h14v1h-14zM896 445h3v1h-3zM904 445h4v1h-4zM163 446h1v1h-1zM500 446h29v1h-29zM587 446h29v1h-29zM894 446h2v1h-2zM905 446h2v1h-2zM161 447h2v1h-2zM529 447h58v1h-58zM891 447h3v1h-3zM905 447h1v1h-1zM160 448h1v1h-1zM888 448h3v1h-3zM159 449h1v1h-1zM886 449h2v1h-2zM157 450h2v1h-2zM884 450h2v1h-2z"/>
<path class="e" d="M156 451h1v1h-1zM881 451h3v1h-3zM155 452h1v1h-1zM879 452h2v1h-2zM153 453h2v1h-2zM877 453h2v1h-2zM152 454h1v1h-1zM874 454h3v1h-3zM151 455h1v1h-1zM871 455h3v1h-3zM149 456h2v1h-2zM868 456h3v1h-3zM148 457h1v1h-1zM866 457h2v1h-2zM147 458h1v1h-1zM863 458h3v1h-3zM145 459h2v1h-2zM860 459h3v1h-3zM144 460h1v1h-1zM857 460h3v1h-3zM143 461h1v1h-1zM854 461h3v1h-3zM141 462h2v1h-2zM851 462h3v1h-3zM140 463h1v1h-1zM848 463h3v1h-3zM139 464h1v1h-1zM845 464h3v1h-3zM137 465h2v1h-2zM842 465h3v1h-3zM136 466h1v1h-1zM839 466h3v1h-3zM135 467h1v1h-1zM837 467h2v1h-2zM134 468h1v1h-1zM834 468h3v1h-3zM132 469h2v1h-2zM831 469h3v1h-3zM131 470h1v1h-1zM828 470h3v1h-3zM130 471h1v1h-1zM825 471h3v1h-3zM128 472h2v1h-2zM823 472h2v1h-2zM127 473h1v1h-1zM820 473h3v1h-3zM126 474h1v1h-1zM817 474h3v1h-3zM124 475h2v1h-2zM813 475h4v1h-4zM123 476h1v1h-1zM809 476h4v1h-4zM122 477h1v1h-1zM805 477h4v1h-4zM120 478h2v1h-2zM802 478h3v1h-3zM119 479h1v1h-1zM799 479h3v1h-3zM118 480h1v1h-1zM796 480h3v1h-3zM116 481h2v1h-2zM794 481h2v1h-2zM115 482h1v1h-1zM791 482h3v1h-3zM114 483h1v1h-1zM788 483h3v1h-3zM112 484h2v1h-2zM785 484h3v1h-3zM111 485h1v1h-1zM782 485h3v1h-3zM110 486h1v1h-1zM780 486h2v1h-2zM108 487h2v1h-2zM777 487h3v1h-3zM107 488h1v1h-1zM774 488h3v1h-3zM106 489h1v1h-1zM770 489h4v1h-4zM105 490h1v1h-1zM766 490h4v1h-4zM103 491h2v1h-2zM762 491h4v1h-4zM102 492h1v1h-1zM759 492h3v1h-3zM101 493h1v1h-1zM755 493h4v1h-4zM99 494h2v1h-2zM752 494h3v1h-3zM98 495h1v1h-1zM748 495h4v1h-4zM97 496h1v1h-1zM745 496h3v1h-3zM95 497h2v1h-2zM741 497h4v1h-4zM94 498h1v1h-1zM737 498h4v1h-4zM93 499h1v1h-1zM733 499h4v1h-4zM91 500h2v1h-2zM729 500h4v1h-4zM90 501h1v1h-1zM724 501h5v1h-5zM89 502h1v1h-1zM719 502h5v1h-5zM87 503h2v1h-2zM715 503h4v1h-4zM86 504h1v1h-1zM711 504h4v1h-4zM85 505h1v1h-1zM708 505h3v1h-3zM83 506h2v1h-2zM704 506h4v1h-4zM82 507h1v1h-1zM700 507h4v1h-4zM81 508h1v1h-1zM695 508h5v1h-5zM79 509h2v1h-2zM690 509h5v1h-5zM78 510h1v1h-1zM685 510h5v1h-5zM77 511h1v1h-1zM680 511h5v1h-5zM675 512h5v1h-5zM670 513h5v1h-5zM665 514h5v1h-5zM660 515h5v1h-5zM654 516h6v1h-6zM647 517h7v1h-7zM640 518h7v1h-7zM632 519h8v1h-8zM625 520h7v1h-7zM617 521h8v1h-8zM606 522h11v1h-11zM591 523h15v1h-15zM576 524h15v1h-15zM112 525h464v1h-464zM104 539h2v1h-2zM106 540h4v1h-4zM110 541h3v1h-3zM113 542h3v1h-3zM116 543h4v1h-4zM120 544h3v1h-3zM123 545h3v1h-3zM126 546h3v1h-3zM129 547h3v1h-3zM132 548h3v1h-3zM135 549h3v1h-3zM138 550h3v1h-3zM141 551h4v1h-4zM145 552h3v1h-3zM148 553h4v1h-4zM152 554h4v1h-4zM156 555h3v1h-3zM159 556h4v1h-4zM177 556h1v1h-1zM163 557h3v1h-3zM177 557h2v1h-2zM166 558h4v1h-4zM176 558h5v1h-5zM170 559h4v1h-4zM176 559h6v1h-6zM174 560h10v1h-10zM175 561h10v1h-10zM175 562h12v1h-12zM175 563h13v1h-13zM174 564h15v1h-15zM174 565h1v1h-1zM329 571h1v1h-1zM329 572h4v1h-4zM329 573h7v1h-7zM329 574h10v1h-10zM329 575h13v1h-13zM264 576h80v1h-80zM329 577h12v1h-12zM329 578h8v1h-8zM329 579h5v1h-5zM329 580h1v1h-1zM264 588h2v1h-2zM266 589h3v1h-3zM269 590h3v1h-3zM272 591h2v1h-2zM274 592h3v1h-3zM277 593h3v1h-3zM280 594h3v1h-3zM283 595h4v1h-4zM287 596h3v1h-3zM290 597h4v1h-4zM294 598h4v1h-4zM298 599h3v1h-3zM301 600h3v1h-3zM304 601h3v1h-3zM307 602h2v1h-2zM309 603h3v1h-3zM312 604h3v1h-3zM315 605h4v1h-4zM336 605h1v1h-1zM319 606h4v1h-4zM336 606h2v1h-2zM323 607h5v1h-5zM335 607h5v1h-5zM328 608h4v1h-4zM335 608h6v1h-6zM332 609h11v1h-11zM334 610h10v1h-10zM334 611h12v1h-12zM334 612h13v1h-13zM333 613h15v1h-15zM333 614h1v1h-1z"/>
</g>
<g style="filter:grayscale(1)">
<text x="17 24.75 34 40.75 48.75 56.75 62 71 80 87 94.75" y="529">dp_pkt2user</text>
<text x="170.75 179 187 195.75 204.25 212.75 216.75 221 229 236.75 246 254.25 259.25 264 271.75" y="403">ne2kAllocBuffer</text>
<text x="197.75 206.75 211 220.75 226 233.75 242" y="580">NICtoPC</text>
<text x="352.75 356.75 364.75 374 381.75 386.75 391.75 405 412.75 419" y="580">inportWord</text>
<text x="350 359 366.75 371.75 381 388.75 394.75 399.75 409 417.75 423" y="631">outportByte</text>
<text x="363.75 370.75 384.25 392.75 395.75 400 409" y="352">kmalloc</text>
<text x="502 511 518.75 523.75 532.75 545.75 553.75 559 566.75 577 586 592" y="251">getEmptyDesc</text>
<text x="500.75 504.75 513 520 527.75 533.75 538.75 545.75 551 559 566.75 577 586 592" y="377">insertFreeDesc</text>
<text x="672 679.75 692.75 706 713 721 728.75 734.75 740.75 746 755 762.75 775.25 782.75 786.75 791 799 805.75 814.25 822 831" y="175">vmm_getFreeMallocPage</text>
<text x="727.75 740 747.75 761 768 775.75" y="225">memset</text>
<text x="732.75 739.75 749.25 756.75 765.75 770" y="377">kpanic</text>
<text x="917 923.75 931.75 935.75 944.75 952 960 966.75" y="99">spinLock</text>
<text x="909 915.75 923.75 927.75 936.75 946.75 954.75 959 967 974.75" y="301">spinUnlock</text>
<text x="923.75 930.75 939.75 944.75 948.75 955.75 962.25" y="428">kprintf</text>
</g>
<path shape-rendering="crispEdges" fill="#000" d="M23 518h1v1h-1zM50 518h1v1h-1zM197 392h1v1h-1zM214 392h1v1h-1zM218 392h1v1h-1zM425 569h1v1h-1zM365 341h1v1h-1zM394 341h1v1h-1zM397 341h1v1h-1zM784 164h1v1h-1zM788 164h1v1h-1zM734 366h1v1h-1zM968 88h1v1h-1zM956 290h1v1h-1zM976 290h1v1h-1zM925 417h1v1h-1z"/>
</svg>
</body></html>
